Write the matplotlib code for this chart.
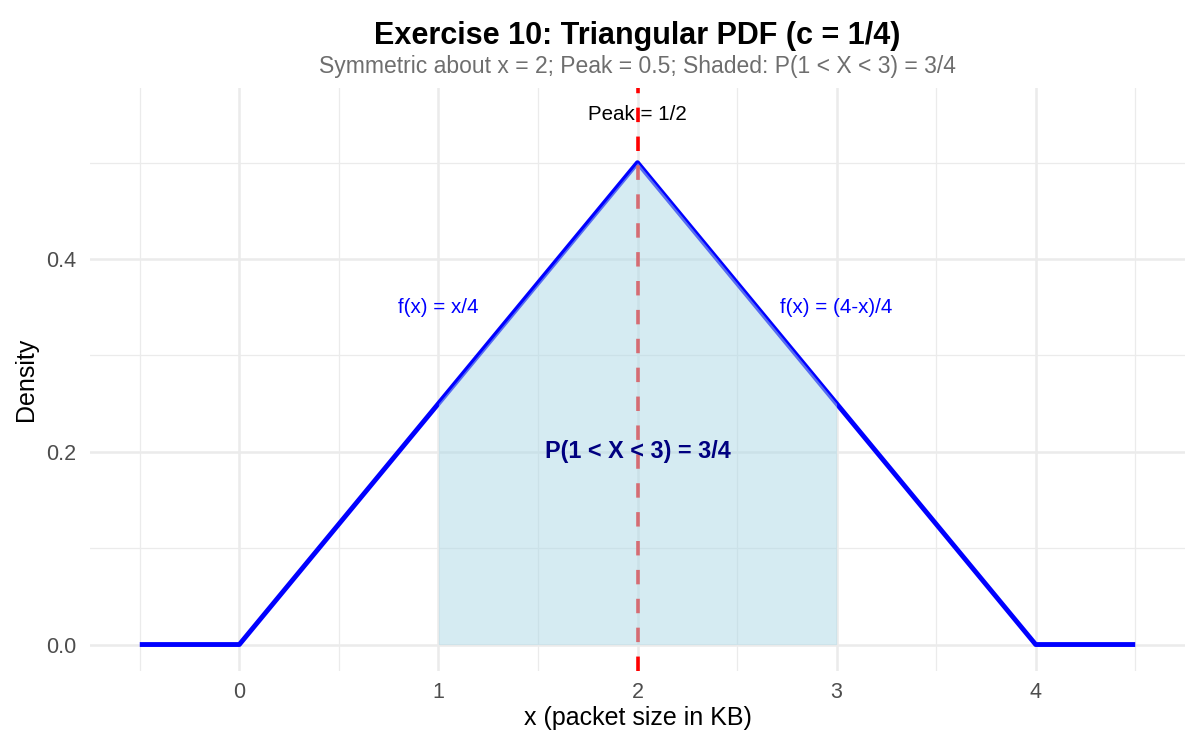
import numpy as np
import matplotlib
matplotlib.use("Agg")
import matplotlib.pyplot as plt
from matplotlib.transforms import blended_transform_factory

plt.rcParams["font.family"] = ["Liberation Sans", "DejaVu Sans"]

# triangular pdf outline
pdf_x = [-0.5, 0, 2, 4, 4.5]
pdf_y = [0, 0, 0.5, 0, 0]

# shaded region P(1 < X < 3)
shade_x = [1, 2, 3]
shade_y = [0.25, 0.5, 0.25]

peak_x = 2
x_ticks = [0, 1, 2, 3, 4]
y_ticks = [0.0, 0.2, 0.4]

fig = plt.figure(figsize=(12, 7.5), dpi=100)
ax = fig.add_axes([0.075, 0.1053, 0.9125, 0.7774])

ax.plot(pdf_x, pdf_y, color="blue", lw=3.5, solid_capstyle="butt", zorder=3)
ax.axvline(peak_x, color="red", lw=2.6, ls=(0, (4, 4)), zorder=4)
ax.fill_between(shade_x, 0, shade_y, color="lightblue", alpha=0.5, lw=0, zorder=5)

ax.text(2, 0.55, "Peak = 1/2", ha="center", va="center", fontsize=14.8, color="black", zorder=6)
ax.text(1, 0.35, "f(x) = x/4", ha="center", va="center", fontsize=14.8, color="blue", zorder=6)
ax.text(3, 0.35, "f(x) = (4-x)/4", ha="center", va="center", fontsize=14.8, color="blue", zorder=6)
ax.text(2, 0.2, "P(1 < X < 3) = 3/4", ha="center", va="center", fontsize=16.8,
        fontweight="bold", color="navy", zorder=6)

ax.set_xlim(-0.75, 4.75)
ax.set_ylim(-0.0275, 0.5775)
ax.set_xticks(x_ticks)
ax.set_yticks(y_ticks)
ax.set_yticklabels([f"{v:.1f}" for v in y_ticks])
ax.set_xticks(np.arange(-0.5, 4.6, 1.0), minor=True)
ax.set_yticks([0.1, 0.3, 0.5], minor=True)

ax.grid(which="major", color="#EBEBEB", lw=1.8)
ax.grid(which="minor", color="#EBEBEB", lw=0.9)
ax.set_axisbelow(True)
for s in ax.spines.values():
    s.set_visible(False)
ax.tick_params(which="both", length=0, labelsize=15.5, labelcolor="#4D4D4D")
ax.tick_params(axis="x", pad=8)
ax.tick_params(axis="y", pad=10)

ax.set_xlabel("x (packet size in KB)", fontsize=18, labelpad=2)
ax.set_ylabel("Density", fontsize=18, labelpad=6)

# titles centred over the panel, like ggplot
title_tf = blended_transform_factory(ax.transAxes, fig.transFigure)
ax.text(0.5, 0.952, "Exercise 10: Triangular PDF (c = 1/4)", ha="center", va="center",
        fontsize=22, fontweight="bold", transform=title_tf)
ax.text(0.5, 0.911, "Symmetric about x = 2; Peak = 0.5; Shaded: P(1 < X < 3) = 3/4",
        ha="center", va="center", fontsize=16.5, color="#6E6E6E", transform=title_tf)

fig.savefig("out.png", dpi=100)
